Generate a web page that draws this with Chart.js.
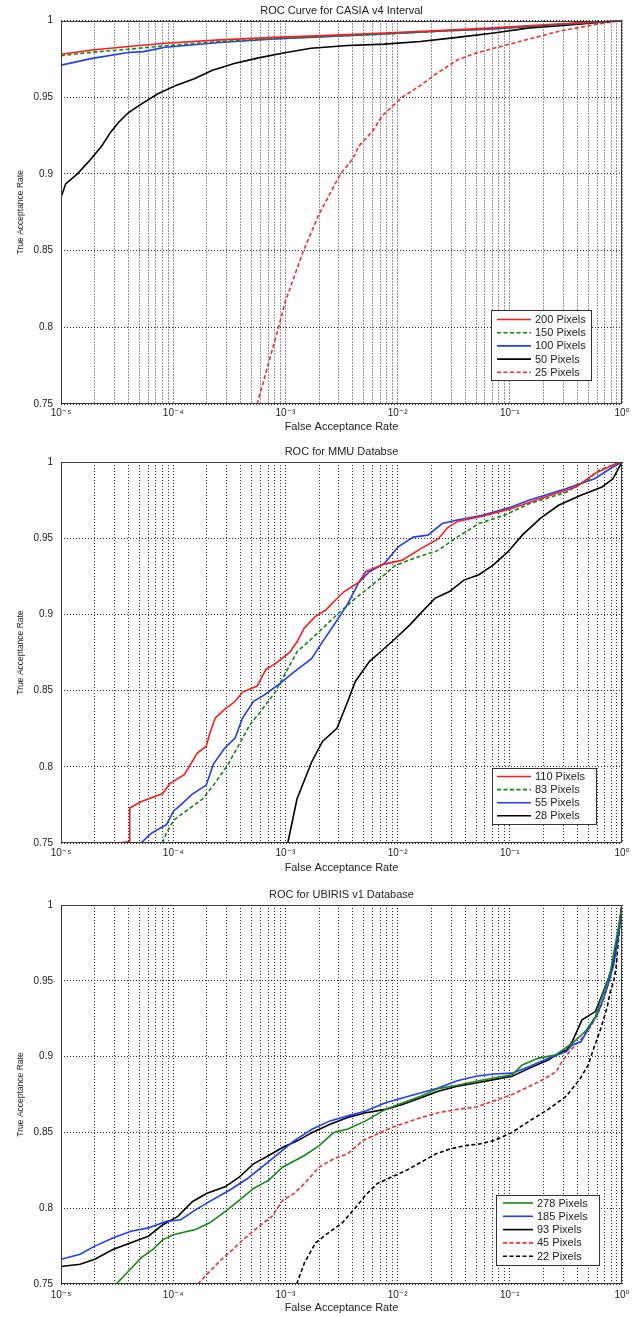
<!DOCTYPE html>
<html><head><meta charset="utf-8">
<script src="https://cdn.jsdelivr.net/npm/chart.js@4.4.1/dist/chart.umd.min.js"></script>
<style>
html,body{margin:0;padding:0;background:#fff;}
#wrap{position:relative;width:644px;height:1317px;overflow:hidden;background:#fff;}
canvas{position:absolute;left:0;}
</style></head><body>
<div id="wrap">
<canvas id="c1" width="644" height="440" style="top:0px"></canvas>
<canvas id="c2" width="644" height="440" style="top:440px"></canvas>
<canvas id="c3" width="644" height="437" style="top:880px"></canvas>
</div>
<script>
// ---------- tick labels ----------
const xDecades = [1e-5, 1e-4, 1e-3, 1e-2, 1e-1, 1];
const xTickLabels = ['10⁻⁵', '10⁻⁴', '10⁻³', '10⁻²', '10⁻¹', '10⁰'];
const yTickValues = [0.75, 0.8, 0.85, 0.9, 0.95, 1];
const yTickLabels = ['0.75', '0.8', '0.85', '0.9', '0.95', '1'];

// ---------- Chart 1: CASIA v4 Interval ----------
const casiaTitle = 'ROC Curve for CASIA v4 Interval';
const casia200Far = [1e-5, 1.9e-5, 4.0e-5, 8.5e-5, 2.6e-4, 8.0e-4, 2.46e-3, 7.6e-3, 2.33e-2, 7.2e-2, 0.22, 1];
const casia200Tar = [0.978, 0.9808, 0.983, 0.9852, 0.9874, 0.989, 0.9903, 0.9919, 0.9934, 0.9952, 0.9974, 1];
const casia150Far = [1e-5, 1.9e-5, 4.0e-5, 8.5e-5, 2.6e-4, 8.0e-4, 2.46e-3, 7.6e-3, 2.33e-2, 7.2e-2, 0.22, 1];
const casia150Tar = [0.9771, 0.9793, 0.9813, 0.9835, 0.9863, 0.9881, 0.9896, 0.9912, 0.993, 0.9947, 0.9969, 1];
const casia100Far = [1e-5, 1.9e-5, 4.0e-5, 5.4e-5, 8.5e-5, 2.6e-4, 8.0e-4, 2.46e-3, 7.6e-3, 2.33e-2, 7.2e-2, 0.22, 1];
const casia100Tar = [0.9709, 0.9753, 0.9791, 0.9797, 0.9826, 0.9857, 0.9879, 0.9896, 0.9912, 0.993, 0.9945, 0.9969, 1];
const casia50Far = [1e-5, 1.05e-5, 1.1e-5, 1.4e-5, 1.8e-5, 2.3e-5, 2.75e-5, 3.3e-5, 4.0e-5, 5.4e-5, 7.3e-5, 1.06e-4, 1.54e-4, 2.24e-4, 3.5e-4, 5.5e-4, 9.3e-4, 1.69e-3, 3.6e-3, 7.6e-3, 1.6e-2, 3.4e-2, 7.2e-2, 0.15, 0.32, 1];
const casia50Tar = [0.885, 0.889, 0.8935, 0.9, 0.9087, 0.918, 0.9269, 0.934, 0.94, 0.9463, 0.9522, 0.9577, 0.9621, 0.9676, 0.972, 0.9753, 0.9786, 0.9819, 0.9837, 0.9846, 0.9863, 0.989, 0.9919, 0.9952, 0.9969, 1];
const casia25Far = [5.6e-4, 8.7e-4, 1.0e-3, 1.45e-3, 2.0e-3, 3.1e-3, 4.0e-3, 4.5e-3, 6.0e-3, 7.3e-3, 1.1e-2, 1.6e-2, 2.16e-2, 3.4e-2, 4.9e-2, 7.2e-2, 0.14, 0.275, 0.58, 1];
const casia25Tar = [0.75, 0.8, 0.817, 0.85, 0.874, 0.9, 0.91, 0.918, 0.928, 0.9379, 0.95, 0.9577, 0.9648, 0.9742, 0.9786, 0.9819, 0.9874, 0.993, 0.9974, 1];

// ---------- Chart 2: MMU ----------
const mmuTitle = 'ROC for MMU Databse';
const mmu110Far = [3.3e-5, 4.1e-5, 4.1e-5, 5.15e-5, 8.05e-5, 9.35e-5, 1.26e-4, 1.64e-4, 1.97e-4, 2.1e-4, 2.37e-4, 2.86e-4, 3.57e-4, 4.15e-4, 5.6e-4, 6.7e-4, 8.1e-4, 1.09e-3, 1.27e-3, 1.47e-3, 1.84e-3, 2.3e-3, 2.67e-3, 3.34e-3, 4.5e-3, 5.2e-3, 7.6e-3, 1.1e-2, 1.6e-2, 2.3e-2, 2.8e-2, 3.4e-2, 5.7e-2, 0.103, 0.187, 0.39, 0.57, 0.83, 1];
const mmu110Tar = [0.75, 0.751, 0.773, 0.777, 0.7825, 0.789, 0.795, 0.809, 0.8135, 0.821, 0.832, 0.8375, 0.843, 0.849, 0.853, 0.864, 0.8675, 0.875, 0.882, 0.891, 0.8985, 0.903, 0.908, 0.915, 0.921, 0.928, 0.933, 0.9356, 0.943, 0.9495, 0.957, 0.961, 0.9644, 0.9694, 0.976, 0.9836, 0.9924, 0.998, 1];
const mmu83Far = [8.05e-5, 8.7e-5, 1.01e-4, 1.36e-4, 1.83e-4, 2.29e-4, 3.08e-4, 3.85e-4, 4.82e-4, 6.0e-4, 8.1e-4, 1.01e-3, 1.27e-3, 1.71e-3, 2.3e-3, 3.1e-3, 4.2e-3, 6.1e-3, 9.5e-3, 1.38e-2, 2.3e-2, 3.4e-2, 5.3e-2, 8.9e-2, 0.15, 0.315, 0.49, 0.62, 0.89, 1];
const mmu83Tar = [0.75, 0.7566, 0.765, 0.772, 0.779, 0.788, 0.8015, 0.8144, 0.8275, 0.8362, 0.849, 0.862, 0.8755, 0.884, 0.893, 0.902, 0.9105, 0.92, 0.932, 0.9367, 0.942, 0.9507, 0.9596, 0.965, 0.9727, 0.98, 0.988, 0.9945, 0.999, 1];
const mmu55Far = [5.15e-5, 6.45e-5, 8.7e-5, 1.01e-4, 1.17e-4, 1.46e-4, 1.97e-4, 2.29e-4, 2.86e-4, 3.57e-4, 4.15e-4, 5.2e-4, 6.5e-4, 8.7e-4, 1.18e-3, 1.71e-3, 2.14e-3, 2.88e-3, 3.6e-3, 4.5e-3, 5.6e-3, 7.6e-3, 1.02e-2, 1.38e-2, 1.86e-2, 2.5e-2, 3.4e-2, 5.7e-2, 0.103, 0.15, 0.315, 0.57, 0.83, 1];
const mmu55Tar = [0.75, 0.7566, 0.762, 0.771, 0.775, 0.7817, 0.788, 0.802, 0.812, 0.819, 0.832, 0.843, 0.8472, 0.854, 0.862, 0.871, 0.882, 0.896, 0.907, 0.921, 0.928, 0.9334, 0.9445, 0.9507, 0.952, 0.9596, 0.962, 0.965, 0.9705, 0.975, 0.9825, 0.989, 0.9967, 1];
const mmu28Far = [1.05e-3, 1.27e-3, 1.71e-3, 2.14e-3, 2.88e-3, 3.6e-3, 4.2e-3, 5.6e-3, 7.05e-3, 9.5e-3, 1.28e-2, 1.6e-2, 2.15e-2, 2.9e-2, 3.9e-2, 5.3e-2, 7.1e-2, 9.6e-2, 0.129, 0.187, 0.272, 0.425, 0.664, 0.83, 1];
const mmu28Tar = [0.75, 0.779, 0.803, 0.8166, 0.8253, 0.843, 0.856, 0.869, 0.8755, 0.884, 0.893, 0.9007, 0.9105, 0.915, 0.9225, 0.926, 0.9323, 0.941, 0.952, 0.963, 0.9716, 0.978, 0.9836, 0.989, 1];

// ---------- Chart 3: UBIRIS v1 ----------
const ubirisTitle = 'ROC for UBIRIS v1 Database';
const ub278Far = [3.1e-5, 3.9e-5, 5.2e-5, 6.6e-5, 8.1e-5, 1.02e-4, 1.58e-4, 2.1e-4, 2.9e-4, 3.9e-4, 5.2e-4, 7.1e-4, 9.5e-4, 1.48e-3, 2.0e-3, 2.7e-3, 3.6e-3, 5.2e-3, 7.8e-3, 1.12e-2, 1.62e-2, 2.3e-2, 3.4e-2, 5.0e-2, 7.2e-2, 0.105, 0.129, 0.18, 0.255, 0.36, 0.47, 0.58, 0.64, 0.71, 0.79, 0.87, 0.93, 1];
const ub278Tar = [0.75, 0.7576, 0.7674, 0.7728, 0.7793, 0.7826, 0.7859, 0.7902, 0.7978, 0.8054, 0.813, 0.8185, 0.8272, 0.8348, 0.8413, 0.85, 0.8522, 0.8576, 0.8652, 0.8696, 0.874, 0.8789, 0.8811, 0.8837, 0.8859, 0.888, 0.8945, 0.899, 0.901, 0.9088, 0.9165, 0.9264, 0.9363, 0.9452, 0.9562, 0.9738, 0.9848, 1];
const ub185Far = [1e-5, 1.48e-5, 2.0e-5, 2.9e-5, 4.2e-5, 6.0e-5, 8.7e-5, 1.17e-4, 1.58e-4, 2.1e-4, 3.2e-4, 4.6e-4, 6.2e-4, 8.3e-4, 1.2e-3, 1.74e-3, 2.5e-3, 3.6e-3, 5.2e-3, 7.8e-3, 1.12e-2, 1.62e-2, 2.3e-2, 3.4e-2, 5.0e-2, 7.2e-2, 0.105, 0.15, 0.22, 0.32, 0.36, 0.43, 0.505, 0.6, 0.687, 0.76, 0.843, 0.933, 1];
const ub185Tar = [0.7663, 0.7696, 0.775, 0.7804, 0.7848, 0.787, 0.7913, 0.7924, 0.7989, 0.8043, 0.812, 0.8196, 0.8272, 0.8348, 0.8446, 0.8522, 0.8576, 0.8609, 0.8641, 0.8696, 0.8728, 0.8761, 0.8793, 0.8841, 0.887, 0.8885, 0.8891, 0.8935, 0.8989, 0.9033, 0.9077, 0.9098, 0.9187, 0.9275, 0.9385, 0.9485, 0.9606, 0.98, 1];
const ub93Far = [1e-5, 1.48e-5, 2.0e-5, 2.9e-5, 4.2e-5, 6.0e-5, 8.1e-5, 1.1e-4, 1.48e-4, 2.0e-4, 2.9e-4, 3.9e-4, 5.2e-4, 7.1e-4, 9.5e-4, 1.29e-3, 1.74e-3, 2.5e-3, 3.6e-3, 5.2e-3, 7.8e-3, 1.12e-2, 1.62e-2, 2.3e-2, 3.4e-2, 5.0e-2, 7.2e-2, 0.105, 0.15, 0.22, 0.273, 0.32, 0.36, 0.44, 0.58, 0.664, 0.76, 0.843, 0.933, 1];
const ub93Tar = [0.7615, 0.763, 0.7663, 0.7728, 0.7772, 0.7815, 0.7891, 0.7946, 0.8043, 0.8098, 0.8141, 0.8207, 0.8293, 0.8348, 0.8402, 0.8446, 0.85, 0.8554, 0.8598, 0.863, 0.8652, 0.8685, 0.8728, 0.8772, 0.8804, 0.8826, 0.8848, 0.887, 0.8924, 0.8978, 0.9022, 0.9043, 0.9099, 0.9242, 0.9297, 0.9407, 0.9518, 0.9628, 0.9826, 1];
const ub45Far = [1.66e-4, 2.0e-4, 2.7e-4, 3.4e-4, 4.2e-4, 5.6e-4, 7.6e-4, 9.5e-4, 1.2e-3, 1.48e-3, 2.0e-3, 2.7e-3, 3.6e-3, 4.9e-3, 6.6e-3, 8.9e-3, 1.2e-2, 1.62e-2, 2.3e-2, 3.4e-2, 5.0e-2, 7.2e-2, 0.105, 0.15, 0.2, 0.26, 0.29, 0.35, 0.44, 0.54, 0.641, 0.735, 0.814, 0.901, 0.966, 1];
const ub45Tar = [0.75, 0.7565, 0.7663, 0.7728, 0.7793, 0.787, 0.7946, 0.8054, 0.8098, 0.8163, 0.8272, 0.8326, 0.8359, 0.8446, 0.8489, 0.8533, 0.8565, 0.8598, 0.863, 0.8652, 0.8667, 0.8707, 0.875, 0.8804, 0.885, 0.8902, 0.8965, 0.9044, 0.9121, 0.921, 0.932, 0.9452, 0.9584, 0.976, 0.9938, 1];
const ub22Far = [1.26e-3, 1.48e-3, 1.86e-3, 2.3e-3, 3.2e-3, 4.3e-3, 5.2e-3, 6.6e-3, 8.9e-3, 1.2e-2, 1.62e-2, 2.2e-2, 2.95e-2, 4.0e-2, 5.4e-2, 7.2e-2, 0.105, 0.15, 0.22, 0.32, 0.42, 0.5, 0.56, 0.64, 0.735, 0.787, 0.843, 0.885, 0.933, 0.966, 1];
const ub22Tar = [0.75, 0.7641, 0.7772, 0.7826, 0.7902, 0.8011, 0.8087, 0.8163, 0.8207, 0.825, 0.8304, 0.8359, 0.8391, 0.8413, 0.8424, 0.8446, 0.85, 0.8576, 0.8652, 0.874, 0.885, 0.8945, 0.9055, 0.9175, 0.932, 0.943, 0.9496, 0.9584, 0.9782, 0.991, 1];

// ---------- helpers ----------
const FONT = "'Liberation Sans', Arial, 'DejaVu Sans', sans-serif";
const TEXT = '#222';
const GRID = '#2e2e2e';
Chart.defaults.font.family = FONT;

function toPoints(far, tar) { return far.map((f, i) => ({ x: f, y: tar[i] })); }

const xGridValues = [];
xDecades.forEach((d, i) => {
  if (i < xDecades.length - 1) { for (let m = 1; m <= 9; m++) xGridValues.push(m * d); }
  else xGridValues.push(d);
});

const rocFrame = {
  id: 'rocFrame',
  afterDatasetsDraw(chart, args, opts) {
    const { ctx, chartArea: a } = chart;
    ctx.save();
    ctx.setLineDash([]);
    ctx.strokeStyle = '#3a3a3a';
    ctx.lineWidth = 1;
    const l = Math.round(a.left) + 0.5, t = Math.round(a.top) + 0.5;
    const r = Math.round(a.right) - 0.5, b = Math.round(a.bottom) - 0.5;
    ctx.strokeRect(l, t, r - l, b - t);
    const L = opts.box;
    if (L) {
      ctx.fillStyle = '#fff';
      ctx.fillRect(L.left, L.top, L.right - L.left, L.bottom - L.top);
      ctx.strokeStyle = '#333';
      ctx.strokeRect(L.left + 0.5, L.top + 0.5, L.right - L.left, L.bottom - L.top);
      chart.data.datasets.forEach((ds, i) => {
        const y = L.row0 + i * L.step;
        ctx.save();
        ctx.beginPath();
        ctx.strokeStyle = ds.borderColor;
        ctx.lineWidth = ds.borderWidth;
        ctx.setLineDash(ds.borderDash || []);
        ctx.moveTo(L.x0, y); ctx.lineTo(L.x1, y);
        ctx.stroke();
        ctx.restore();
        ctx.fillStyle = TEXT;
        ctx.font = '11px ' + FONT;
        ctx.textBaseline = 'middle';
        ctx.textAlign = 'left';
        ctx.fillText(ds.label, L.tx, y + 0.5);
      });
    }
    ctx.restore();
  }
};

function makeChart(id, cfg) {
  const el = document.getElementById(id);
  return new Chart(el, {
    type: 'scatter',
    data: {
      datasets: cfg.series.map(s => ({
        label: s.label,
        data: toPoints(s.far, s.tar),
        borderColor: s.color,
        backgroundColor: s.color,
        borderDash: s.dash,
        borderWidth: 1.6,
        showLine: true,
        pointRadius: 0,
        pointHoverRadius: 0,
        tension: 0,
        fill: false
      }))
    },
    options: {
      responsive: false,
      animation: false,
      events: [],
      layout: { padding: { left: 0, right: 22, top: 0, bottom: 0 } },
      plugins: {
        legend: { display: false },
        tooltip: { enabled: false },
        title: {
          display: true, text: cfg.title, fullSize: false, color: TEXT,
          font: { size: 11, weight: 'normal', family: FONT, lineHeight: 1.2 },
          padding: { top: cfg.titlePad[0], bottom: cfg.titlePad[1] }
        },
        rocFrame: { box: cfg.legend }
      },
      scales: {
        x: {
          type: 'logarithmic', position: 'bottom', min: 1e-5, max: 1,
          afterBuildTicks(scale) { scale.ticks = xGridValues.map(v => ({ value: v })); },
          afterFit(scale) { scale.height = cfg.xAxisH; },
          ticks: {
            autoSkip: false, maxRotation: 0, minRotation: 0, padding: cfg.xTickPad, color: TEXT,
            font: { size: 10, family: FONT },
            callback(value) {
              const i = xDecades.findIndex(d => Math.abs(Math.log10(d) - Math.log10(value)) < 1e-6);
              return i >= 0 ? xTickLabels[i] : '';
            }
          },
          grid: { color: GRID, lineWidth: 1, drawTicks: false, borderDash: [1, 2] },
          border: { display: false, dash: [1, 2] },
          title: {
            display: true, text: 'False Acceptance Rate', color: TEXT,
            font: { size: 11, family: FONT, lineHeight: 1.2 },
            padding: { top: 0, bottom: cfg.xTitlePadB }
          }
        },
        y: {
          type: 'linear', min: 0.75, max: 1,
          afterBuildTicks(scale) { scale.ticks = yTickValues.map(v => ({ value: v })); },
          afterFit(scale) { scale.width = 61; },
          ticks: {
            autoSkip: false, padding: 8, color: TEXT,
            font: { size: 10, family: FONT },
            callback(value) {
              const i = yTickValues.findIndex(v => Math.abs(v - value) < 1e-9);
              return i >= 0 ? yTickLabels[i] : '';
            }
          },
          grid: { color: GRID, lineWidth: 1, drawTicks: false, borderDash: [1, 2] },
          border: { display: false, dash: [1, 2] },
          title: {
            display: true, text: 'True Acceptance Rate', color: TEXT,
            font: { size: 8.5, family: FONT, lineHeight: 1.2 },
            padding: { top: 16, bottom: 0 }
          }
        }
      }
    },
    plugins: [rocFrame]
  });
}

makeChart('c1', {
  title: casiaTitle, titlePad: [4, 3.3], xAxisH: 36, xTitlePadB: 6.7, xTickPad: 3,
  legend: { left: 491, top: 310, right: 591, bottom: 380, row0: 319.5, step: 13.2, x0: 497, x1: 531, tx: 535 },
  series: [
    { label: '200 Pixels', far: casia200Far, tar: casia200Tar, color: '#ff1a1a', dash: [] },
    { label: '150 Pixels', far: casia150Far, tar: casia150Tar, color: '#138a13', dash: [4, 2.5] },
    { label: '100 Pixels', far: casia100Far, tar: casia100Tar, color: '#1f3dff', dash: [] },
    { label: '50 Pixels', far: casia50Far, tar: casia50Tar, color: '#000000', dash: [] },
    { label: '25 Pixels', far: casia25Far, tar: casia25Tar, color: '#ff2a2a', dash: [4, 2.5] }
  ]
});

makeChart('c2', {
  title: mmuTitle, titlePad: [5.1, 3.7], xAxisH: 37, xTitlePadB: 5.7, xTickPad: 4,
  legend: { left: 492, top: 328, right: 596, bottom: 384, row0: 336.5, step: 13.1, x0: 497, x1: 531, tx: 535 },
  series: [
    { label: '110 Pixels', far: mmu110Far, tar: mmu110Tar, color: '#ff1a1a', dash: [] },
    { label: '83 Pixels', far: mmu83Far, tar: mmu83Tar, color: '#138a13', dash: [4, 2.5] },
    { label: '55 Pixels', far: mmu55Far, tar: mmu55Tar, color: '#1f3dff', dash: [] },
    { label: '28 Pixels', far: mmu28Far, tar: mmu28Tar, color: '#000000', dash: [] }
  ]
});

makeChart('c3', {
  title: ubirisTitle, titlePad: [8.4, 3.4], xAxisH: 33, xTitlePadB: 2.4, xTickPad: 5,
  legend: { left: 496, top: 315, right: 599, bottom: 385, row0: 323, step: 13.3, x0: 503, x1: 533, tx: 537 },
  series: [
    { label: '278 Pixels', far: ub278Far, tar: ub278Tar, color: '#138a13', dash: [] },
    { label: '185 Pixels', far: ub185Far, tar: ub185Tar, color: '#1f3dff', dash: [] },
    { label: '93 Pixels', far: ub93Far, tar: ub93Tar, color: '#000000', dash: [] },
    { label: '45 Pixels', far: ub45Far, tar: ub45Tar, color: '#ff2a2a', dash: [4, 2.5] },
    { label: '22 Pixels', far: ub22Far, tar: ub22Tar, color: '#000000', dash: [4, 2.5] }
  ]
});
</script>
</body></html>
